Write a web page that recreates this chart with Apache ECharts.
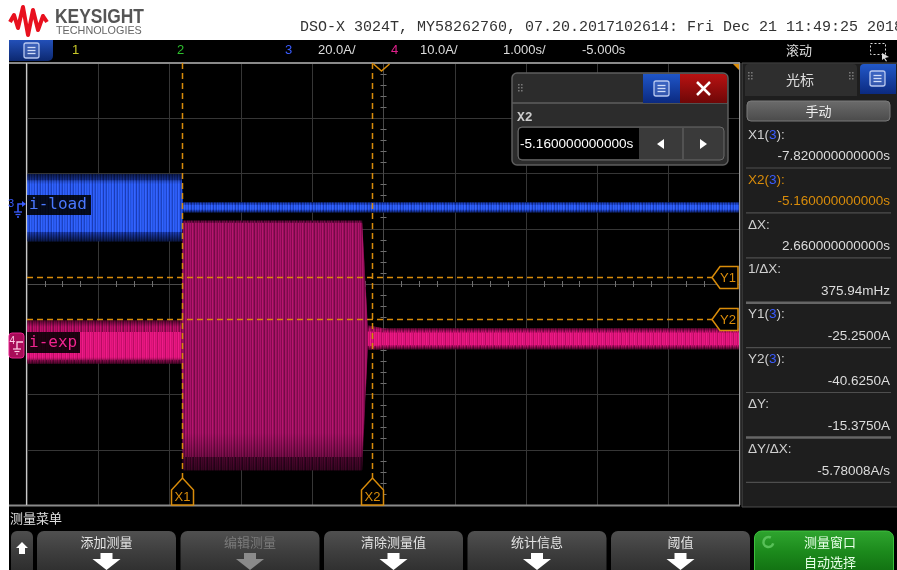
<!DOCTYPE html>
<html><head><meta charset="utf-8">
<script src="https://cdn.jsdelivr.net/npm/echarts@6/dist/echarts.min.js"></script>
<style>html,body{margin:0;padding:0;background:#fff;}#c{width:897px;height:570px;}</style>
</head><body><div id="c"></div>
<script>
// ================= DATA =================
const timeRange = [-10, 0];            // s  (1.000 s/div, centre -5.000 s)
const ch3Range  = [-107.8, 52.2];      // A  (20.0 A/div)
const ch4Range  = [-29.5, 50.5];       // A  (10.0 A/div)
// channel 3 : i-load (envelope of the trace)
const ch3Time   = [-10, -7.83, -7.815, 0];
const ch3Upper  = [11.9, 11.9, 1.9, 1.9];
const ch3Lower  = [-12.3, -12.3, -1.9, -1.9];
const ch3CoreUp = [9.8, 9.8, 0.9, 0.9];
const ch3CoreLo = [-9.0, -9.0, -0.9, -0.9];
// channel 4 : i-exp (envelope of the trace)
const ch4Time   = [-10, -7.83, -7.815, -5.30, -5.22, -5.17, -5.0, 0];
const ch4Upper  = [3.9, 3.9, 22.0, 22.0, 3.0, 2.9, 2.5, 2.5];
const ch4Lower  = [-3.9, -3.9, -23.2, -23.2, -1.4, -1.4, -1.3, -1.3];
const ch4CoreUp = [1.8, 1.8, 21.6, 21.6, 1.9, 1.9, 1.7, 1.7];
const ch4CoreLo = [-3.2, -3.2, -20.8, -20.8, -0.7, -0.7, -0.6, -0.6];
// cursors
const cursorXNames  = ['X1', 'X2'];
const cursorXValues = [-7.82, -5.16];
const cursorYNames  = ['Y1', 'Y2'];
const cursorYValues = [-25.25, -40.625];
// texts
const headerText = 'DSO-X 3024T, MY58262760, 07.20.2017102614: Fri Dec 21 11:49:25 2018';
const panelLabels = ['X1(3):', 'X2(3):', 'ΔX:', '1/ΔX:', 'Y1(3):', 'Y2(3):', 'ΔY:', 'ΔY/ΔX:'];
const panelValues = ['-7.820000000000s', '-5.160000000000s', '2.660000000000s', '375.94mHz',
                     '-25.2500A', '-40.6250A', '-15.3750A', '-5.78008A/s'];
const menuLabels  = ['添加测量', '编辑测量', '清除测量值', '统计信息', '阈值', '测量窗口\n自动选择'];
const dialogValue = '-5.160000000000s';

// ================= STYLE HELPERS =================
const SANS = '"Liberation Sans", Arial, sans-serif';
const CJK  = '"Noto Sans CJK SC", sans-serif';
const MONO = '"Liberation Mono", "DejaVu Sans Mono", monospace';
const ORANGE = '#d98c0a';
function stripes(colors){
  const c = document.createElement('canvas'); c.width = colors.length; c.height = 1;
  const g = c.getContext('2d');
  colors.forEach((col,i)=>{ g.fillStyle = col; g.fillRect(i,0,1,1); });
  return {image:c, repeat:'repeat'};
}
function fade(top, bottom){
  return new echarts.graphic.LinearGradient(0,0,0,1,[
    {offset:0, color:'rgba(0,0,0,'+top+')'},{offset:0.15, color:'rgba(0,0,0,0)'},
    {offset:0.85, color:'rgba(0,0,0,0)'},{offset:1, color:'rgba(0,0,0,'+bottom+')'}]);
}
const blueStyle = {
  outer:stripes(['#1a3cb8','#102a85','#2148d2','#1634a6','#0e2478','#1d42c4','#183aae','#0f2a88','#2046cc','#132f96','#1b3fbc']),
  core:stripes(['#2d5cf5','#1e45c8','#3466ff','#2a58f0','#1a3cb5','#2f60fa','#2654e6','#1c42c0','#3264ff','#2352dc','#2b5af2']),
  fade:fade(0.6, 0.65)};
const pinkStyle = {
  outer:stripes(['#b80c66','#8a0a4c','#c8106e','#9e0c58','#7a0844','#c00e6a','#a00c5a']),
  core:stripes(['#e8157f','#c80f6c','#f01c8a','#d41274','#e21680','#b80c62','#ea1882','#d81478']),
  fade:fade(0.55, 0.6)};
const burstStyle= {
  outer:stripes(['#6a0840','#4a052c','#7a0a48','#56063a','#3e0426','#700a44','#5c0738']),
  core:stripes(['#a8126a','#86094e','#b81670','#940e5a','#720a46','#ac1468','#9c105e','#7e0a4c','#b0146c','#8e0c56']),
  fade:fade(0, 0.5)};

function T(x, y, text, fill, font, align, z, extra){
  return Object.assign({type:'text', x:x, y:y, z:z||10, silent:true,
    style:{text:text, fill:fill, font:font, align:align||'left', textAlign:align||'left',
           verticalAlign:'middle', textVerticalAlign:'middle'}}, extra||{});
}
function R(x, y, w, h, fill, stroke, r, z, lw){
  return {type:'rect', z:z||5, silent:true, shape:{x:x, y:y, width:w, height:h, r:r||0},
    style:{fill:fill, stroke:stroke||null, lineWidth:lw||1}};
}
function L(x1, y1, x2, y2, stroke, lw, z, dash){
  return {type:'line', z:z||6, silent:true, shape:{x1:x1,y1:y1,x2:x2,y2:y2},
    style:{stroke:stroke, lineWidth:lw||1, lineDash:dash||null}};
}
function vgrad(a, b){ return new echarts.graphic.LinearGradient(0,0,0,1,[{offset:0,color:a},{offset:1,color:b}]); }
function vgrad3(a, b, c){ return new echarts.graphic.LinearGradient(0,0,0,1,[{offset:0,color:a},{offset:0.45,color:b},{offset:1,color:c}]); }
function menuIcon(x, y, z){
  return [R(x, y, 15, 15, 'rgba(120,150,220,0.35)', '#b8c8f0', 2, z, 1.3),
          L(x+3.5, y+4.5, x+11.5, y+4.5, '#d0dcf8', 1.3, z),
          L(x+3.5, y+7.5, x+11.5, y+7.5, '#d0dcf8', 1.3, z),
          L(x+3.5, y+10.5, x+11.5, y+10.5, '#d0dcf8', 1.3, z)];
}
function grip(x, y, z){
  const out = [];
  for (let r=0;r<3;r++) for (let c=0;c<2;c++) out.push(R(x+c*3, y+r*3, 1.6, 1.6, '#777', null, 0, z));
  return out;
}

// ================= GRAPHIC (instrument chrome) =================
const G = [];
G.push(R(9, 40, 900, 540, '#000', null, 0, -20));
// logo
G.push({type:'polyline', z:10, silent:true, shape:{points:[[10,22],[14,15],[18,28],[23,7],[28,35],[33,10],[38,30],[43,16],[47,22]]},
        style:{stroke:'#e8101e', lineWidth:4, lineJoin:'round', fill:null}});
G.push(T(55, 17, 'KEYSIGHT', '#555', 'bold 20px '+SANS, 'left', 10, {scaleX:0.87}));
G.push(T(56, 31, 'TECHNOLOGIES', '#666', '10.8px '+SANS));
G.push(T(300, 27, headerText, '#333', '15px '+MONO));
// top bar
G.push(R(9, 40, 44, 21, vgrad('#2350b8','#0c2870'), null, [0,0,5,0], 8));
G.push.apply(G, menuIcon(24, 43, 9));
G.push(T(72, 50, '1', '#c8c828', '13px '+SANS));
G.push(T(177, 50, '2', '#2ec02e', '13px '+SANS));
G.push(T(285, 50, '3', '#3a5cff', '13px '+SANS));
G.push(T(318, 50, '20.0A/', '#dddddd', '13px '+SANS));
G.push(T(391, 50, '4', '#e2208c', '13px '+SANS));
G.push(T(420, 50, '10.0A/', '#dddddd', '13px '+SANS));
G.push(T(503, 50, '1.000s/', '#dddddd', '13px '+SANS));
G.push(T(582, 50, '-5.000s', '#dddddd', '13px '+SANS));
G.push(T(786, 50, '滚动', '#dddddd', '13px '+CJK));
G.push({type:'rect', z:8, silent:true, shape:{x:870.5, y:43.5, width:15, height:11}, style:{fill:null, stroke:'#ddd', lineWidth:1, lineDash:[2,2]}});
G.push({type:'polygon', z:8, silent:true, shape:{points:[[882,53],[889,57],[885,58],[887,61],[886,61.5],[884,58.5],[882,60]]}, style:{fill:'#ddd'}});
// plot borders
G.push(L(9, 63, 740, 63, '#8a8a8a', 2, 6));
G.push(L(9, 505.5, 740, 505.5, '#8a8a8a', 2, 6));
G.push(L(26.5, 63, 26.5, 505, '#c8c8c8', 1.2, 6));
G.push(L(739.5, 63, 739.5, 505, '#9a9a9a', 1, 6));
G.push({type:'polygon', z:20, silent:true, shape:{points:[[733,64],[739,64],[739,70]]}, style:{fill:ORANGE}});
// channel markers
G.push(T(8, 204, '3', '#3a5cff', '11px '+SANS, 'left', 20));
G.push({type:'polyline', z:20, silent:true, shape:{points:[[18,212],[18,204],[25,204]]}, style:{stroke:'#3a5cff', lineWidth:1.5, fill:null}});
G.push({type:'polygon', z:20, silent:true, shape:{points:[[22,201],[26,204],[22,207]]}, style:{fill:'#3a5cff'}});
G.push(L(14, 212, 22, 212, '#3a5cff', 1.3, 20)); G.push(L(15.5, 214.5, 20.5, 214.5, '#3a5cff', 1.3, 20)); G.push(L(17, 217, 19, 217, '#3a5cff', 1.3, 20));
G.push(R(9, 333, 15, 25, '#a80c58', '#e8208e', 3, 19, 1));
G.push(T(9.5, 341, '4', '#ffd0e8', '10px '+SANS, 'left', 20));
G.push({type:'polyline', z:20, silent:true, shape:{points:[[17,349],[17,342],[23,342]]}, style:{stroke:'#ffd0e8', lineWidth:1.3, fill:null}});
G.push(L(13, 349, 21, 349, '#ffd0e8', 1.2, 20)); G.push(L(14.5, 351.5, 19.5, 351.5, '#ffd0e8', 1.2, 20)); G.push(L(16, 354, 18, 354, '#ffd0e8', 1.2, 20));
// trace labels
G.push(R(27, 195, 64, 20, 'rgba(0,0,0,0.88)', null, 0, 20));
G.push(T(29, 205, 'i-load', '#4a78ff', '16px "DejaVu Sans Mono", monospace', 'left', 21));
G.push(R(27, 332, 53, 21, 'rgba(0,0,0,0.88)', null, 0, 20));
G.push(T(29, 343, 'i-exp', '#f0248f', '16px "DejaVu Sans Mono", monospace', 'left', 21));

// dialog (X2)
const DZ = 60;
G.push(R(512, 73, 216, 92, '#2c2c2c', '#5e5e5e', 5, DZ, 1.5));
G.push(L(512, 103, 728, 103, '#5e5e5e', 1.5, DZ+1));
G.push.apply(G, grip(518, 84, DZ+1));
G.push(R(643, 74, 37, 29, vgrad('#1f55c8','#0b2a80'), null, 0, DZ+1));
G.push.apply(G, menuIcon(654, 81, DZ+2));
G.push(R(680, 74, 47, 29, vgrad('#b81212','#6e0707'), null, [0,4,0,0], DZ+1));
G.push(L(697, 82, 710, 95, '#fff', 2.5, DZ+2)); G.push(L(710, 82, 697, 95, '#fff', 2.5, DZ+2));
G.push(T(517, 118, 'X2', '#cccccc', 'bold 13px '+MONO, 'left', DZ+2));
G.push(R(518, 127, 206, 33, '#3a3a3a', '#6a6a6a', 4, DZ+1, 1));
G.push(R(519, 128, 120, 31, '#000', null, [3,0,0,3], DZ+2));
G.push(T(520, 144, dialogValue, '#ffffff', '13.6px '+SANS, 'left', DZ+3));
G.push(L(683, 128, 683, 159, '#6a6a6a', 1, DZ+3));
G.push({type:'polygon', z:DZ+3, silent:true, shape:{points:[[657,144],[664,139],[664,149]]}, style:{fill:'#fff'}});
G.push({type:'polygon', z:DZ+3, silent:true, shape:{points:[[700,139],[707,144],[700,149]]}, style:{fill:'#fff'}});

// right panel
G.push(R(742, 63, 160, 444, '#1e1e1e', '#4c4c4c', 0, 8, 1));
G.push(R(745, 64, 112, 32, '#2e2e2e', null, [4,4,0,0], 9));
G.push.apply(G, grip(748, 72, 10));
G.push.apply(G, grip(849, 72, 10));
G.push(T(800, 80, '光标', '#dddddd', '14px '+CJK, 'center', 10));
G.push(R(860, 64, 36, 30, vgrad('#2258c8','#0b2a80'), null, [4,0,0,0], 9));
G.push.apply(G, menuIcon(870, 71, 10));
G.push(R(747, 101, 143, 20, vgrad('#6c6c6c','#4a4a4a'), '#7a7a7a', 4, 9, 1));
G.push(T(818.5, 111, '手动', '#eeeeee', '13px '+CJK, 'center', 10));
panelLabels.forEach((lab, k) => {
  const y = 135 + 44.9*k;
  const isX2 = k === 1;
  const col = isX2 ? ORANGE : '#d0d0d0';
  const m = lab.match(/^(.*\()3(\):)$/);
  if (m) {
    G.push({type:'text', x:748, y:y, z:10, silent:true, style:{
      text:'{a|'+m[1]+'}{b|3}{a|'+m[2]+'}', align:'left', textAlign:'left', verticalAlign:'middle', textVerticalAlign:'middle',
      rich:{a:{fill:col, color:col, font:'13.5px '+SANS}, b:{fill:'#3a5cff', color:'#3a5cff', font:'13.5px '+SANS}}}});
  } else {
    G.push(T(748, y, lab, '#d0d0d0', '13.5px '+SANS));
  }
  G.push(T(890, y+21.5, panelValues[k], isX2 ? ORANGE : '#dcdcdc', '13.5px '+SANS, 'right'));
  const thick = (k === 3 || k === 6);
  G.push(L(746, y+33, 891, y+33, thick ? '#666' : '#4e4e4e', thick ? 2.5 : 1.2, 10));
});

// bottom menu
G.push(T(10, 518, '测量菜单', '#e0e0e0', '13px '+CJK));
G.push(R(11, 531, 22, 44, vgrad3('#4e4e4e','#3c3c3c','#2a2a2a'), null, 6, 8));
G.push({type:'polygon', z:9, silent:true, shape:{points:[[22,542],[28,548],[25,548],[25,554],[19,554],[19,548],[16,548]]}, style:{fill:'#fff'}});
menuLabels.forEach((lab, i) => {
  const x0 = 37 + i*143.5, w = 139, cx = x0 + w/2;
  const green = i === menuLabels.length - 1;
  const disabled = i === 1;
  G.push(R(x0, 531, w, 46, green ? vgrad3('#2fa52f','#1c8a1c','#0f6a0f') : vgrad3('#505050','#3e3e3e','#2b2b2b'), green ? '#3cc03c' : null, 7, 8, 1));
  if (green) {
    const parts = lab.split('\n');
    G.push(T(cx+6, 542, parts[0], '#e8ffe8', '13px '+CJK, 'center', 9));
    G.push(T(cx+6, 562, parts[1], '#e8ffe8', '13px '+CJK, 'center', 9));
    G.push({type:'arc', z:9, silent:true, shape:{cx:x0+14, cy:542, r:5, startAngle:0.3, endAngle:5.2}, style:{stroke:'#58c058', lineWidth:2.5, fill:null}});
  } else {
    const tc = disabled ? '#7a7a7a' : '#e4e4e4';
    G.push(T(cx, 542, lab, tc, '13px '+CJK, 'center', 9));
    const ac = disabled ? '#8a8a8a' : '#ffffff';
    G.push({type:'polygon', z:9, silent:true, shape:{points:[[cx-6,553],[cx+6,553],[cx+6,559],[cx+14,559],[cx,570],[cx-14,559],[cx-6,559]]}, style:{fill:ac}});
  }
});

// ================= SERIES =================
function envelope(tArr, up, lo, cup, clo, yIdx, normal, burst, burstAbove){
  return {
    type:'custom', xAxisIndex:1, yAxisIndex:yIdx, silent:true, z:3, clip:true,
    data: tArr.slice(0, -1).map((t, i) => [t, tArr[i+1]]),
    encode:{x:[0,1]},
    renderItem: function(params, api){
      const i = params.dataIndex;
      const quad = (a, b) => [api.coord([tArr[i], a[i]]), api.coord([tArr[i+1], a[i+1]]),
                              api.coord([tArr[i+1], b[i+1]]), api.coord([tArr[i], b[i]])];
      const big = Math.max(up[i]-lo[i], up[i+1]-lo[i+1]) > burstAbove;
      const st = big ? burst : normal;
      const outerPts = quad(up, lo);
      return {type:'group', children:[
        {type:'polygon', shape:{points:outerPts}, style:{fill:st.outer}},
        {type:'polygon', shape:{points:quad(cup, clo)}, style:{fill:st.core}},
        {type:'polygon', shape:{points:outerPts}, style:{fill:st.fade}}
      ]};
    }
  };
}

const cursorXSeries = {
  type:'custom', xAxisIndex:1, yAxisIndex:1, silent:true, z:6,
  data: cursorXValues.map(v => [v]), encode:{x:0},
  renderItem: function(params, api){
    const cs = params.coordSys;
    const x = Math.round(api.coord([api.value(0), 0])[0]) + 0.5;
    const bot = cs.y + cs.height;
    return {type:'group', children:[
      {type:'line', shape:{x1:x, y1:cs.y, x2:x, y2:bot-26}, style:{stroke:ORANGE, lineWidth:1.5, lineDash:[6,4]}},
      {type:'polygon', shape:{points:[[x-11,bot],[x-11,bot-15],[x,bot-27],[x+11,bot-15],[x+11,bot]]}, style:{fill:'#000', stroke:ORANGE, lineWidth:1.5}},
      {type:'text', x:x, y:bot-8, style:{text:cursorXNames[params.dataIndex], fill:ORANGE, font:'13px '+SANS, align:'center', verticalAlign:'middle', textAlign:'center', textVerticalAlign:'middle'}}
    ]};
  }
};
const cursorYSeries = {
  type:'custom', xAxisIndex:1, yAxisIndex:1, silent:true, z:6,
  data: cursorYValues.map(v => [timeRange[0], v]), encode:{x:0, y:1},
  renderItem: function(params, api){
    const cs = params.coordSys;
    const y = Math.round(api.coord([timeRange[0], api.value(1)])[1]) + 0.5;
    const right = cs.x + cs.width - 2;
    return {type:'group', children:[
      {type:'line', shape:{x1:cs.x, y1:y, x2:right-26, y2:y}, style:{stroke:ORANGE, lineWidth:1.5, lineDash:[6,4]}},
      {type:'polygon', shape:{points:[[right,y-11],[right-18,y-11],[right-26,y],[right-18,y+11],[right,y+11]]}, style:{fill:'#000', stroke:ORANGE, lineWidth:1.5}},
      {type:'text', x:right-10, y:y+0.5, style:{text:cursorYNames[params.dataIndex], fill:ORANGE, font:'13px '+SANS, align:'center', verticalAlign:'middle', textAlign:'center', textVerticalAlign:'middle'}}
    ]};
  }
};
const triggerSeries = {
  type:'custom', xAxisIndex:1, yAxisIndex:1, silent:true, z:7,
  data:[[(timeRange[0]+timeRange[1])/2]], encode:{x:0},
  renderItem: function(params, api){
    const cs = params.coordSys;
    const x = api.coord([api.value(0), 0])[0] - 2;
    return {type:'polyline', shape:{points:[[x-8,cs.y+1],[x,cs.y+8],[x+8,cs.y+1]]}, style:{stroke:ORANGE, lineWidth:1.5, fill:null}};
  }
};

const gridLine = '#363636';
const option = {
  backgroundColor:'#ffffff',
  animation:false,
  grid:{left:27, top:63, width:713, height:442, containLabel:false},
  xAxis:[
    {type:'value', min:-5, max:5, interval:1, position:'bottom',
     axisLine:{show:true, onZero:true, onZeroAxisIndex:0, lineStyle:{color:'#4a4a4a'}},
     axisTick:{show:false, inside:true}, minorTick:{show:true, splitNumber:4, length:3, lineStyle:{color:'#707070'}},
     axisLabel:{show:false}, splitLine:{show:true, lineStyle:{color:gridLine}}},
    {type:'value', min:timeRange[0], max:timeRange[1], show:false},
    {type:'value', min:-5, max:5, interval:1, position:'bottom',
     axisLine:{show:false, onZero:true, onZeroAxisIndex:0},
     axisTick:{show:false, inside:false}, minorTick:{show:true, splitNumber:4, length:3, lineStyle:{color:'#707070'}},
     axisLabel:{show:false}, splitLine:{show:false}}
  ],
  yAxis:[
    {type:'value', min:-4, max:4, interval:1, position:'left',
     axisLine:{show:true, onZero:true, onZeroAxisIndex:0, lineStyle:{color:'#4a4a4a'}},
     axisTick:{show:false, inside:true}, minorTick:{show:true, splitNumber:5, length:3, lineStyle:{color:'#707070'}},
     axisLabel:{show:false}, splitLine:{show:true, lineStyle:{color:gridLine}}},
    {type:'value', min:ch3Range[0], max:ch3Range[1], show:false},
    {type:'value', min:ch4Range[0], max:ch4Range[1], show:false},
    {type:'value', min:-4, max:4, interval:1, position:'left',
     axisLine:{show:false, onZero:true, onZeroAxisIndex:0},
     axisTick:{show:false, inside:false}, minorTick:{show:true, splitNumber:5, length:3, lineStyle:{color:'#707070'}},
     axisLabel:{show:false}, splitLine:{show:false}}
  ],
  graphic:{elements:G},
  series:[
    envelope(ch4Time, ch4Upper, ch4Lower, ch4CoreUp, ch4CoreLo, 2, pinkStyle, burstStyle, 20),
    envelope(ch3Time, ch3Upper, ch3Lower, ch3CoreUp, ch3CoreLo, 1, blueStyle, blueStyle, 1e9),
    cursorXSeries, cursorYSeries, triggerSeries
  ]
};
const chart = echarts.init(document.getElementById('c'));
chart.setOption(option);
</script></body></html>
